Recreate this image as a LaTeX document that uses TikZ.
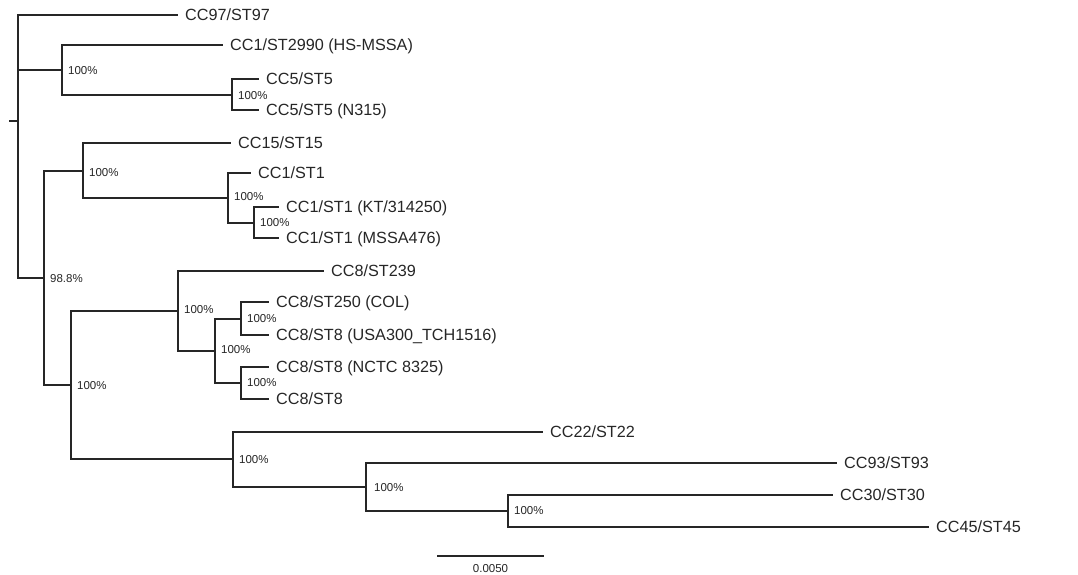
\documentclass[tikz,border=0pt]{standalone}
\usepackage{fontspec}
\setmainfont{Liberation Sans}

\begin{document}
\begin{tikzpicture}[x=1pt,y=-1pt,
	branch/.style={draw=black!85,line width=1.8pt,line cap=rect},
	leaf/.style={anchor=west,inner xsep=8pt,inner ysep=0pt,text height=11.5pt,text depth=0pt,text=black!85,font=\fontsize{16.2}{16}\selectfont},
	boot/.style={anchor=west,inner xsep=6pt,inner ysep=0pt,text height=8.2pt,text depth=0pt,text=black!85,font=\fontsize{11.5}{12}\selectfont}]
	\useasboundingbox (0,0) rectangle (1078,574);
	\coordinate (root) at (18,121);
	\coordinate (stub) at (10,121);
	\coordinate (a) at (62,70);
	\coordinate (a2) at (232,95);
	\coordinate (b) at (44,278);
	\coordinate (c) at (83,171);
	\coordinate (c2) at (228,198);
	\coordinate (c3) at (254,223);
	\coordinate (d) at (71,385);
	\coordinate (e) at (178,311);
	\coordinate (e2) at (215,351);
	\coordinate (e3) at (241,319);
	\coordinate (e4) at (241,383);
	\coordinate (f) at (233,459);
	\coordinate (f2) at (366,487);
	\coordinate (f3) at (508,511);

	\node[leaf] (st97) at (177,15) {CC97/ST97};
	\node[leaf] (st2990) at (222,45) {CC1/ST2990 (HS-MSSA)};
	\node[leaf] (st5) at (258,79) {CC5/ST5};
	\node[leaf] (n315) at (258,110) {CC5/ST5 (N315)};
	\node[leaf] (st15) at (230,143) {CC15/ST15};
	\node[leaf] (st1) at (250,173) {CC1/ST1};
	\node[leaf] (kt) at (278,207) {CC1/ST1 (KT/314250)};
	\node[leaf] (mssa) at (278,238) {CC1/ST1 (MSSA476)};
	\node[leaf] (st239) at (323,271) {CC8/ST239};
	\node[leaf] (col) at (268,302) {CC8/ST250 (COL)};
	\node[leaf] (usa) at (268,335) {CC8/ST8 (USA300\_TCH1516)};
	\node[leaf] (nctc) at (268,367) {CC8/ST8 (NCTC 8325)};
	\node[leaf] (st8) at (268,399) {CC8/ST8};
	\node[leaf] (st22) at (542,432) {CC22/ST22};
	\node[leaf] (st93) at (836,463) {CC93/ST93};
	\node[leaf] (st30) at (832,495) {CC30/ST30};
	\node[leaf] (st45) at (928,527) {CC45/ST45};

	\draw[branch] (stub) -- (root);
	\draw[branch] (root) |- (st97.west);
	\draw[branch] (root) |- (a);
	\draw[branch] (root) |- (b);
	\draw[branch] (a) |- (st2990.west);
	\draw[branch] (a) |- (a2);
	\draw[branch] (a2) |- (st5.west);
	\draw[branch] (a2) |- (n315.west);
	\draw[branch] (b) |- (c);
	\draw[branch] (b) |- (d);
	\draw[branch] (c) |- (st15.west);
	\draw[branch] (c) |- (c2);
	\draw[branch] (c2) |- (st1.west);
	\draw[branch] (c2) |- (c3);
	\draw[branch] (c3) |- (kt.west);
	\draw[branch] (c3) |- (mssa.west);
	\draw[branch] (d) |- (e);
	\draw[branch] (d) |- (f);
	\draw[branch] (e) |- (st239.west);
	\draw[branch] (e) |- (e2);
	\draw[branch] (e2) |- (e3);
	\draw[branch] (e2) |- (e4);
	\draw[branch] (e3) |- (col.west);
	\draw[branch] (e3) |- (usa.west);
	\draw[branch] (e4) |- (nctc.west);
	\draw[branch] (e4) |- (st8.west);
	\draw[branch] (f) |- (st22.west);
	\draw[branch] (f) |- (f2);
	\draw[branch] (f2) |- (st93.west);
	\draw[branch] (f2) |- (f3);
	\draw[branch] (f3) |- (st30.west);
	\draw[branch] (f3) |- (st45.west);

	\node[boot] (bA) at (a) {100\%};
	\node[boot] (bA2) at (a2) {100\%};
	\node[boot] (bB) at (b) {98.8\%};
	\node[boot] (bC) at ([yshift=-1]c) {100\%};
	\node[boot] (bC2) at ([yshift=2]c2) {100\%};
	\node[boot] (bC3) at ([yshift=1]c3) {100\%};
	\node[boot] (bD) at (d) {100\%};
	\node[boot] (bE) at ([yshift=2]e) {100\%};
	\node[boot] (bE2) at ([yshift=2]e2) {100\%};
	\node[boot] (bE3) at ([yshift=1]e3) {100\%};
	\node[boot] (bE4) at ([yshift=1]e4) {100\%};
	\node[boot] (bF) at (f) {100\%};
	\node[boot] (bF2) at ([xshift=2]f2) {100\%};
	\node[boot] (bF3) at ([yshift=1]f3) {100\%};

	\coordinate (scaleL) at (438,556);
	\coordinate (scaleR) at (543,556);
	\draw[branch] (scaleL) -- (scaleR);
	\node[boot,anchor=center] (scale) at (490.5,568) {0.0050};
\end{tikzpicture}
\end{document}
